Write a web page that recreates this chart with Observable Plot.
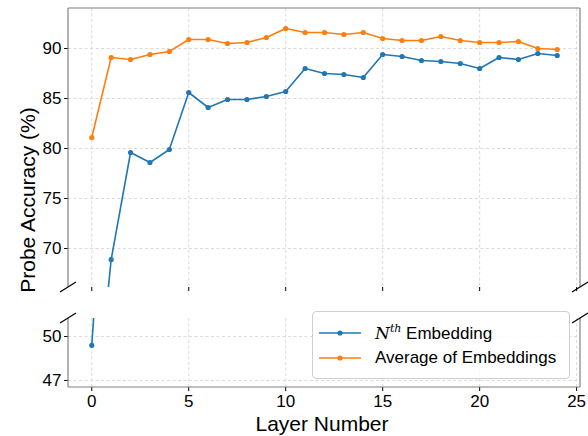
<!DOCTYPE html>
<html><head><meta charset="utf-8">
<script src="https://cdn.jsdelivr.net/npm/d3@7"></script>
<script src="https://cdn.jsdelivr.net/npm/@observablehq/plot@0.6"></script>
<style>
body{margin:0;background:#fff;}
#wrap{position:relative;width:588px;height:436px;font-family:"Liberation Sans",sans-serif;color:#000;}
#wrap svg{position:absolute;left:0;overflow:visible;}
.lab{position:absolute;white-space:nowrap;}
#legend{position:absolute;left:312px;top:311px;width:256px;height:66px;border:1px solid #cfcfcf;border-radius:4px;background:rgba(255,255,255,0.85);font-size:17px;}
#legend .row{position:absolute;left:6px;height:24px;display:flex;align-items:center;}
#legend .row span{margin-left:14px;}
</style></head><body><div id="wrap"></div>
<script>
const layers = [0,1,2,3,4,5,6,7,8,9,10,11,12,13,14,15,16,17,18,19,20,21,22,23,24];
const nthEmbedding = [49.4,68.9,79.6,78.6,79.9,85.6,84.1,84.9,84.9,85.2,85.7,88.0,87.5,87.4,87.1,89.4,89.2,88.8,88.7,88.5,88.0,89.1,88.9,89.5,89.3];
const avgEmbeddings = [81.1,89.1,88.9,89.4,89.7,90.9,90.9,90.5,90.6,91.1,92.0,91.6,91.6,91.4,91.6,91.0,90.8,90.8,91.2,90.8,90.6,90.6,90.7,90.0,89.9];
const seriesNames = ["Nth Embedding","Average of Embeddings"];
const colors = ["#1f77b4","#ff7f0e"];
const xTicks = [0,5,10,15,20,25];
const yTicksTop = [70,75,80,85,90];
const yTicksBottom = [47,50];

const data = [];
layers.forEach((l,i)=>{
  data.push({layer:l, acc:nthEmbedding[i], series:seriesNames[0]});
  data.push({layer:l, acc:avgEmbeddings[i], series:seriesNames[1]});
});

function spines(sides, breakAt){
  return (index, scales, values, dims) => {
    const {width,height,marginTop,marginRight,marginBottom,marginLeft} = dims;
    const x0=marginLeft, x1=width-marginRight, y0=marginTop, y1=height-marginBottom;
    const g = d3.create("svg:g").attr("fill","none");
    const s = g.append("g").attr("stroke","#808080").attr("stroke-width",1.2);
    if (sides.includes("left")) s.append("line").attr("x1",x0).attr("x2",x0).attr("y1",y0).attr("y2",y1);
    if (sides.includes("right")) s.append("line").attr("x1",x1).attr("x2",x1).attr("y1",y0).attr("y2",y1);
    if (sides.includes("top")) s.append("line").attr("x1",x0).attr("x2",x1).attr("y1",y0).attr("y2",y0);
    if (sides.includes("bottom")) s.append("line").attr("x1",x0).attr("x2",x1).attr("y1",y1).attr("y2",y1);
    const yb = breakAt === "bottom" ? y1 : y0;
    const b = g.append("g").attr("stroke","#000").attr("stroke-width",1.2);
    for (const xx of [x0,x1]) b.append("line").attr("x1",xx-8).attr("x2",xx+8).attr("y1",yb+5).attr("y2",yb-5);
    return g.node();
  };
}

const gridStyle = {stroke:"#d0d0d0", strokeDasharray:"3,2.5", strokeWidth:0.8};
const common = {
  width:588, marginLeft:68, marginRight:8,
  style:{fontFamily:"Liberation Sans, sans-serif", fontSize:"17px", color:"#000", background:"transparent", overflow:"visible"},
  color:{domain:seriesNames, range:colors}
};

function seriesMarks(){
  return [
    Plot.line(data, {x:"layer", y:"acc", stroke:"series", z:"series", strokeWidth:1.6, clip:true}),
    Plot.dot(data, {x:"layer", y:"acc", fill:"series", r:2.6, clip:true})
  ];
}

const topPlot = Plot.plot({
  ...common, height:300, marginTop:8, marginBottom:13,
  x:{domain:[-1.2,25.2], ticks:xTicks, tickSize:4, tickFormat:()=>"", label:null},
  y:{domain:[66.1,94], ticks:yTicksTop, tickSize:4, tickPadding:3, tickFormat:"d", label:null},
  marks:[
    Plot.ruleX(xTicks, {x:d=>d, ...gridStyle}),
    Plot.ruleY(yTicksTop, {y:d=>d, ...gridStyle}),
    ...seriesMarks(),
    spines(["left","right","top"], "bottom")
  ]
});
topPlot.style.top = "0px";

const bottomPlot = Plot.plot({
  ...common, height:136, marginTop:18, marginBottom:49,
  x:{domain:[-1.2,25.2], ticks:xTicks, tickSize:4, tickPadding:3, tickFormat:"d", label:null},
  y:{domain:[46.52,51.23], ticks:yTicksBottom, tickSize:4, tickPadding:3, tickFormat:"d", label:null},
  marks:[
    Plot.ruleX(xTicks, {x:d=>d, ...gridStyle}),
    Plot.ruleY(yTicksBottom, {y:d=>d, ...gridStyle}),
    ...seriesMarks(),
    spines(["left","right","bottom"], "top")
  ]
});
bottomPlot.style.top = "300px";

const wrap = document.getElementById("wrap");
wrap.appendChild(topPlot);
wrap.appendChild(bottomPlot);

const ylab = document.createElement("div");
ylab.className = "lab";
ylab.textContent = "Probe Accuracy (%)";
ylab.style.cssText = "left:28px;top:200px;font-size:21px;transform:translate(-50%,-50%) rotate(-90deg);";
wrap.appendChild(ylab);

const xlab = document.createElement("div");
xlab.className = "lab";
xlab.textContent = "Layer Number";
xlab.style.cssText = "left:322px;top:424px;font-size:21px;transform:translate(-50%,-50%);";
wrap.appendChild(xlab);

const legend = document.createElement("div");
legend.id = "legend";
const labelsHtml = ['<i style="font-family:\'DejaVu Serif\',serif">N</i><sup style="font-size:11px;font-family:\'DejaVu Serif\',serif;font-style:italic">th</sup> Embedding', "Average of Embeddings"];
labelsHtml.forEach((h,i)=>{
  const row = document.createElement("div");
  row.className = "row";
  row.style.top = (9 + i*25) + "px";
  row.innerHTML = `<svg width="42" height="10" style="position:static"><line x1="0" x2="42" y1="5" y2="5" stroke="${colors[i]}" stroke-width="1.6"/><circle cx="21" cy="5" r="2.6" fill="${colors[i]}"/></svg><span>${h}</span>`;
  legend.appendChild(row);
});
wrap.appendChild(legend);
</script></body></html>
